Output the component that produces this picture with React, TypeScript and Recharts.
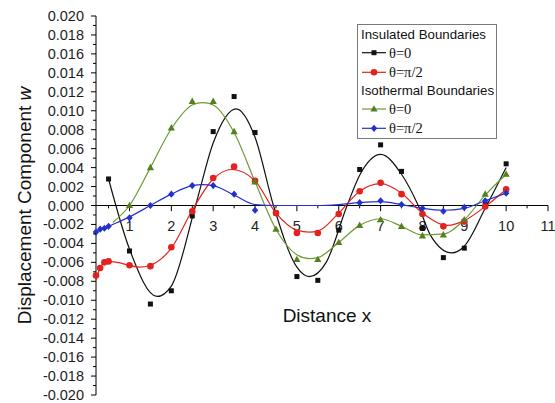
import React from 'react';
import { ComposedChart, Line, Scatter, XAxis, YAxis, ReferenceLine, Label } from 'recharts';

// x tick labels along the zero line, y tick labels on the left axis
const xMajorTicks = [1, 2, 3, 4, 5, 6, 7, 8, 9, 10, 11];
const xMinorTicks = [0.5, 1.5, 2.5, 3.5, 4.5, 5.5, 6.5, 7.5, 8.5, 9.5, 10.5];
const yMajorTicks = [
  -0.02, -0.018, -0.016, -0.014, -0.012, -0.01, -0.008, -0.006, -0.004, -0.002, 0,
  0.002, 0.004, 0.006, 0.008, 0.01, 0.012, 0.014, 0.016, 0.018, 0.02,
];

// Insulated boundaries, theta = 0 (black squares)
const insulated0Markers = [
  [0.5, 0.0028], [1.0, -0.0048], [1.5, -0.0104], [2.0, -0.009], [2.5, -0.0011],
  [3.0, 0.0078], [3.5, 0.0115], [4.0, 0.0077], [4.5, -0.0008], [5.0, -0.0075],
  [5.5, -0.0079], [6.0, -0.0026], [6.5, 0.0038], [7.0, 0.0064], [7.5, 0.0036],
  [8.0, -0.0024], [8.5, -0.0055], [9.0, -0.0045], [9.5, 0.0001], [10.0, 0.0044],
];
const insulated0Curve = [
  [0.5, 0.0028], [1.0, -0.0046], [1.66, -0.0096], [2.0, -0.0085], [2.58, 0.0],
  [3.0, 0.0066], [3.55, 0.0102], [4.0, 0.0072], [4.44, 0.0], [5.0, -0.0065],
  [5.3, -0.0075], [5.7, -0.006], [6.2, 0.0], [6.5, 0.0032], [7.0, 0.0054],
  [7.5, 0.0033], [7.9, 0.0], [8.2, -0.0032], [8.7, -0.005], [9.0, -0.0043],
  [9.5, -0.0003], [10.0, 0.004],
];

// Insulated boundaries, theta = pi/2 (red circles)
const insulatedHalfPiMarkers = [
  [0.2, -0.0074], [0.3, -0.0066], [0.4, -0.006], [0.5, -0.0059], [1.0, -0.0063],
  [1.5, -0.0064], [2.0, -0.0044], [2.5, -0.0006], [3.0, 0.0029], [3.5, 0.0041],
  [4.0, 0.0026], [4.5, -0.0008], [5.0, -0.0029], [5.5, -0.0029], [6.0, -0.0009],
  [6.5, 0.0015], [7.0, 0.0024], [7.5, 0.0012], [8.0, -0.0009], [8.5, -0.0022],
  [9.0, -0.0017], [9.5, -0.0001], [10.0, 0.0017],
];
const insulatedHalfPiCurve = [
  [0.2, -0.0078], [0.3, -0.0066], [0.45, -0.0059], [0.7, -0.006], [1.25, -0.0065],
  [1.5, -0.0063], [2.0, -0.0045], [2.5, -0.0005], [3.0, 0.0028], [3.45, 0.0038],
  [4.0, 0.0026], [4.5, -0.0008], [5.0, -0.0026], [5.3, -0.0028], [5.5, -0.0027],
  [6.0, -0.0008], [6.5, 0.0015], [7.0, 0.0023], [7.5, 0.0013], [8.0, -0.0008],
  [8.6, -0.0021], [9.0, -0.0016], [9.5, -0.0001], [10.0, 0.0017],
];

// Isothermal boundaries, theta = 0 (green triangles)
const isothermal0Markers = [
  [1.0, 0.0], [1.5, 0.004], [2.0, 0.0082], [2.5, 0.011], [3.0, 0.011],
  [3.5, 0.0078], [4.0, 0.0025], [4.5, -0.0025], [5.0, -0.0057], [5.5, -0.0057],
  [6.0, -0.0039], [6.5, -0.0021], [7.0, -0.0015], [7.5, -0.0022], [8.0, -0.0032],
  [8.5, -0.0031], [9.0, -0.0015], [9.5, 0.0012], [10.0, 0.0033],
];
const isothermal0Curve = [
  [0.6, -0.0018], [1.0, 0.0], [1.5, 0.004], [2.0, 0.0081], [2.5, 0.0106],
  [2.75, 0.01085], [3.0, 0.0106], [3.5, 0.0077], [4.0, 0.0025], [4.5, -0.0025],
  [5.0, -0.0052], [5.3, -0.0056], [5.5, -0.0055], [6.0, -0.0039], [6.5, -0.0021],
  [7.0, -0.0014], [7.5, -0.0022], [8.0, -0.0031], [8.5, -0.003], [9.0, -0.0015],
  [9.5, 0.0011], [10.0, 0.0033],
];

// Isothermal boundaries, theta = pi/2 (blue diamonds)
const isothermalHalfPiMarkers = [
  [0.2, -0.0028], [0.3, -0.0025], [0.4, -0.0024], [0.5, -0.0022], [1.0, -0.0013],
  [1.5, 0.0], [2.0, 0.0012], [2.5, 0.0021], [3.0, 0.0021], [3.5, 0.0012],
  [4.0, -0.0005], [6.5, 0.0003], [7.0, 0.0005], [7.5, 0.0001], [8.0, -0.0003],
  [8.5, -0.0006], [9.0, -0.0002], [9.5, 0.0005], [10.0, 0.0013],
];
const isothermalHalfPiCurve = [
  [0.2, -0.0028], [0.5, -0.0022], [1.0, -0.0012], [1.5, 0.0], [2.0, 0.0012],
  [2.5, 0.0021], [2.75, 0.0022], [3.0, 0.0021], [3.5, 0.0011], [4.0, 0.0001],
  [4.5, 0.0], [5.5, 0.0], [6.0, 0.0001], [6.5, 0.0003], [7.0, 0.0004],
  [7.5, 0.0001], [8.0, -0.0003], [8.5, -0.0005], [9.0, -0.0003], [9.5, 0.0005],
  [10.0, 0.0013],
];

const toRows = (pairs: number[][]) => pairs.map(([x, y]) => ({ x, y }));

const FONT = '"Liberation Sans", Arial, sans-serif';
const SERIF = '"Liberation Serif", "Times New Roman", serif';

const COLORS = {
  black: '#111111',
  red: '#e3221e',
  green: '#6f9a34',
  greenMark: '#55801f',
  blue: '#2330cc',
};

const yMinorTicks = yMajorTicks.slice(0, -1).map((v, i) => (v + yMajorTicks[i + 1]) / 2);
const yAllTicks = [...yMajorTicks, ...yMinorTicks].sort((a, b) => a - b);

const SquareDot = ({ cx, cy }: any) => <rect x={cx - 2.5} y={cy - 2.5} width={5} height={5} fill={COLORS.black} />;
const CircleDot = ({ cx, cy }: any) => <circle cx={cx} cy={cy} r={3.3} fill={COLORS.red} />;
const TriangleDot = ({ cx, cy }: any) => (
  <polygon points={`${cx},${cy - 3.8} ${cx - 3.6},${cy + 2.6} ${cx + 3.6},${cy + 2.6}`} fill={COLORS.greenMark} />
);
const DiamondDot = ({ cx, cy }: any) => (
  <polygon points={`${cx},${cy - 3.6} ${cx + 3.2},${cy} ${cx},${cy + 3.6} ${cx - 3.2},${cy}`} fill={COLORS.blue} />
);

const YTick = ({ x, y, payload }: any) => {
  const v = payload.value;
  const major = yMajorTicks.some((m) => Math.abs(m - v) < 1e-9);
  return (
    <g>
      <line x1={x - (major ? 5 : 3)} x2={x} y1={y} y2={y} stroke="#000" strokeWidth={1} />
      {major && (
        <text x={x - 12} y={y} textAnchor="end" dominantBaseline="central" fontSize={14.5} fontFamily={FONT} fill="#1e1e1e">
          {v.toFixed(3)}
        </text>
      )}
    </g>
  );
};

const XTickLabel = ({ viewBox, text }: any) => (
  <text
    x={viewBox.x + viewBox.width / 2}
    y={viewBox.y + 20}
    textAnchor="middle"
    dominantBaseline="central"
    fontSize={14.5}
    fontFamily={FONT}
    fill="#1e1e1e"
  >
    {text}
  </text>
);

const YTitle = ({ viewBox }: any) => (
  <text
    transform={`translate(24, ${viewBox.y + viewBox.height / 2}) rotate(-90)`}
    textAnchor="middle"
    dominantBaseline="central"
    fontSize={19}
    fontFamily={FONT}
    fill="#111"
  >
    Displacement Component <tspan fontStyle="italic">w</tspan>
  </text>
);

const legendRows = [
  { kind: 'header', label: 'Insulated Boundaries', y: 38.5 },
  { kind: 'item', label: 'θ=0', y: 52.7, color: COLORS.black, dot: SquareDot },
  { kind: 'item', label: 'θ=π/2', y: 72.3, color: COLORS.red, dot: CircleDot },
  { kind: 'header', label: 'Isothermal Boundaries', y: 95 },
  { kind: 'item', label: 'θ=0', y: 109, color: COLORS.green, dot: TriangleDot },
  { kind: 'item', label: 'θ=π/2', y: 128.3, color: COLORS.blue, dot: DiamondDot },
];

const Overlay = () => (
  <svg width={555} height={403} style={{ position: 'absolute', left: 0, top: 0, pointerEvents: 'none' }}>
    <rect x={357.5} y={24.5} width={139} height={114} fill="#fff" stroke="#7a7a7a" strokeWidth={1} />
    {legendRows.map((r, i) =>
      r.kind === 'header' ? (
        <text key={i} x={361} y={r.y} fontSize={13.3} fontFamily={FONT} fill="#111">
          {r.label}
        </text>
      ) : (
        <g key={i}>
          <line x1={362} x2={386} y1={r.y} y2={r.y} stroke={r.color} strokeWidth={1.2} />
          {React.createElement(r.dot as any, { cx: 374, cy: r.y })}
          <text x={389} y={r.y + 5} fontSize={14.5} fontFamily={SERIF} fill="#111">
            {r.label}
          </text>
        </g>
      )
    )}
    <text x={327} y={321.5} textAnchor="middle" fontSize={19} fontFamily={FONT} fill="#111">
      Distance x
    </text>
  </svg>
);

export default function App() {
  return (
    <div style={{ position: 'absolute', left: 0, top: 0, width: 555, height: 403, background: '#fff' }}>
      <ComposedChart width={555} height={403} margin={{ top: 16, right: 7, bottom: 8, left: 0 }}>
        <XAxis type="number" dataKey="x" domain={[0.2, 11]} hide allowDuplicatedCategory={false} />
        <YAxis
          type="number"
          domain={[-0.02, 0.02]}
          ticks={yAllTicks}
          interval={0}
          width={96}
          tickSize={0}
          tickMargin={0}
          tickLine={false}
          axisLine={{ stroke: '#000', strokeWidth: 1 }}
          tick={<YTick />}
        >
          <Label content={<YTitle />} />
        </YAxis>

        <ReferenceLine y={0} stroke="#000" strokeWidth={1} />
        {xMinorTicks.map((t) => (
          <ReferenceLine key={`m${t}`} segment={[{ x: t, y: 0 }, { x: t, y: -0.0003 }]} stroke="#000" />
        ))}
        {xMajorTicks.map((t) => (
          <ReferenceLine
            key={`M${t}`}
            segment={[{ x: t, y: 0 }, { x: t, y: -0.0006 }]}
            stroke="#000"
            label={<XTickLabel text={String(t)} />}
          />
        ))}

        <Line data={toRows(insulated0Curve)} dataKey="y" type="monotone" stroke={COLORS.black} strokeWidth={1.2} dot={false} isAnimationActive={false} />
        <Line data={toRows(insulatedHalfPiCurve)} dataKey="y" type="monotone" stroke={COLORS.red} strokeWidth={1.2} dot={false} isAnimationActive={false} />
        <Line data={toRows(isothermal0Curve)} dataKey="y" type="monotone" stroke={COLORS.green} strokeWidth={1.2} dot={false} isAnimationActive={false} />
        <Line data={toRows(isothermalHalfPiCurve)} dataKey="y" type="monotone" stroke={COLORS.blue} strokeWidth={1.2} dot={false} isAnimationActive={false} />

        <Scatter data={toRows(insulated0Markers)} dataKey="y" shape={<SquareDot />} isAnimationActive={false} />
        <Scatter data={toRows(insulatedHalfPiMarkers)} dataKey="y" shape={<CircleDot />} isAnimationActive={false} />
        <Scatter data={toRows(isothermal0Markers)} dataKey="y" shape={<TriangleDot />} isAnimationActive={false} />
        <Scatter data={toRows(isothermalHalfPiMarkers)} dataKey="y" shape={<DiamondDot />} isAnimationActive={false} />
      </ComposedChart>
      <Overlay />
    </div>
  );
}
